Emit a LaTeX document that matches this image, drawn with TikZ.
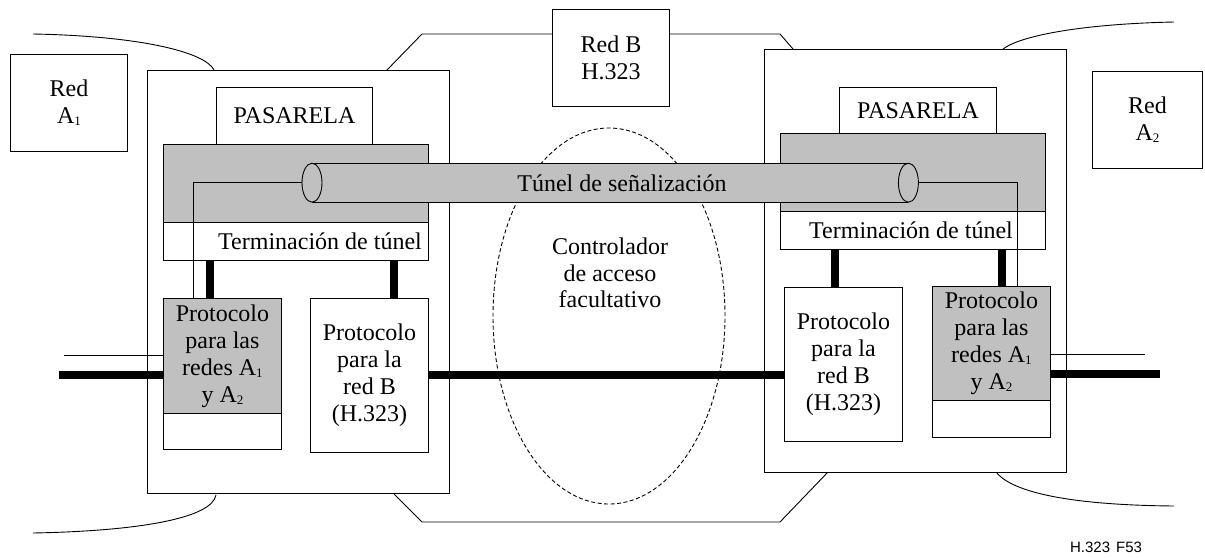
\documentclass[tikz,border=0pt]{standalone}
\usepackage{fontspec}
\setmainfont{Liberation Serif}
\newfontfamily\figsans{Liberation Sans}
\usetikzlibrary{shapes.geometric}
\definecolor{tgray}{RGB}{192,192,192}
\newcommand\figtxt{\fontsize{24}{27}\selectfont}
\newcommand\figsub[1]{\raisebox{-2pt}{\fontsize{13}{13}\selectfont #1}}
\begin{document}
\begin{tikzpicture}[x=1pt,y=-1pt,
  box/.style={draw, line width=0.9pt, fill=white, inner sep=0pt, align=center, font=\figtxt, anchor=north west},
  gbox/.style={box, fill=tgray},
  lbl/.style={inner sep=0pt, align=center, font=\figtxt},
  thk/.style={line width=8pt},
  thn/.style={line width=0.9pt},
  outline/.style={line width=0.9pt}]
\useasboundingbox (0,0) rectangle (1205,557);
% network outlines
\draw[outline] (33,34) .. controls (140,36) and (205,52) .. (214,70);
\draw[outline] (33,533) .. controls (140,531) and (212,518) .. (216,495);
\draw[outline] (1174,22) .. controls (1080,24) and (1020,36) .. (1003,49);
\draw[outline] (996,472) .. controls (1010,490) and (1060,505) .. (1174,506);
\draw[outline] (387,70) -- (422,34) -- (780,34) -- (793,49);
\draw[outline] (394,494) -- (422,522) -- (780,522) -- (828,472);
% gateways
\node[box, minimum width=302pt, minimum height=423pt] (gw1) at (147,70) {};
\node[box, minimum width=302pt, minimum height=423pt] (gw2) at (764,49) {};
% gatekeeper
\node[draw, ellipse, dash pattern=on 4pt off 2.5pt, line width=0.9pt, minimum width=232pt, minimum height=376pt, inner sep=0pt] (gk) at (609,316) {};
\node[lbl, font=\fontsize{24}{26.5}\selectfont] (gktext) at (610,273) {Controlador\\de acceso\\facultativo};
% networks
\node[box, minimum width=117pt, minimum height=97pt] (redA1) at (10,54) {Red\\A\figsub{1}};
\node[box, minimum width=117pt, minimum height=97pt] (redB) at (552,9) {Red B\\H.323};
\node[box, minimum width=110pt, minimum height=97pt] (redA2) at (1092,71) {Red\\A\figsub{2}};
% left gateway internals
\node[box, minimum width=156pt, minimum height=57pt] (pas1) at (216,87) {PASARELA};
\node[gbox, minimum width=265pt, minimum height=78pt] (gr1) at (163,144) {};
\node[box, minimum width=265pt, minimum height=38pt] (term1) at (163,222) {};
\node[lbl, anchor=east] (term1t) at (422,241) {Terminación de túnel};
\node[gbox, minimum width=118pt, minimum height=115pt] (pa1) at (163,298) {Protocolo\\para las\\redes A\figsub{1}\\y A\figsub{2}};
\node[box, minimum width=118pt, minimum height=36pt] (pa1w) at (163,413) {};
\node[box, minimum width=118pt, minimum height=154pt] (pb1) at (310,298) {Protocolo\\para la\\red B\\(H.323)};
% right gateway internals
\node[box, minimum width=157pt, minimum height=46pt] (pas2) at (839,87) {PASARELA};
\node[gbox, minimum width=265pt, minimum height=78pt] (gr2) at (780,133) {};
\node[box, minimum width=265pt, minimum height=38pt] (term2) at (780,211) {};
\node[lbl, anchor=east] (term2t) at (1013,230) {Terminación de túnel};
\node[box, minimum width=118pt, minimum height=154pt] (pb2) at (784,287) {Protocolo\\para la\\red B\\(H.323)};
\node[gbox, minimum width=118pt, minimum height=114pt] (pa2) at (932,286) {Protocolo\\para las\\redes A\figsub{1}\\y A\figsub{2}};
\node[box, minimum width=118pt, minimum height=37pt] (pa2w) at (932,400) {};
% tunnel
\node[fill=tgray, inner sep=0pt, minimum width=596pt, minimum height=39pt, anchor=north west] (tunnel) at (312,163) {};
\draw[outline] (tunnel.north west) -- (tunnel.north east);
\draw[outline] (tunnel.south west) -- (tunnel.south east);
\node[draw, ellipse, fill=tgray, line width=0.9pt, inner sep=0pt, minimum width=20pt, minimum height=39pt] (tl) at (tunnel.west) {};
\node[draw, ellipse, fill=tgray, line width=0.9pt, inner sep=0pt, minimum width=20pt, minimum height=39pt] (tr) at (tunnel.east) {};
\node[lbl] (tuntext) at (622,183) {Túnel de señalización};
\draw[thn] (tl.west) -| ([xshift=30pt]pa1.north west);
\draw[thn] (tr.east) -| ([xshift=85pt]pa2.north west);
% thick links
\draw[thk] ([xshift=47pt]term1.south west) -- ([xshift=47pt]pa1.north west);
\draw[thk] ([xshift=231pt]term1.south west) -- ([xshift=231pt]term1.south west |- pb1.north);
\draw[thk] ([xshift=55pt]term2.south west) -- ([xshift=55pt]term2.south west |- pb2.north);
\draw[thk] ([xshift=222pt]term2.south west) -- ([xshift=222pt]term2.south west |- pa2.north);
\draw[thk] (pb1.east) -- (pb1.east -| pb2.west);
\coordinate (la) at (59,375);
\coordinate (lb) at (64,355);
\coordinate (ra) at (1160,374);
\coordinate (rb) at (1145,354);
\draw[thk] (la) -- (la -| pa1.west);
\draw[thn] (lb) -- (lb -| pa1.west);
\draw[thk] (ra -| pa2.east) -- (ra);
\draw[thn] (rb -| pa2.east) -- (rb);
\node[inner sep=0pt, font=\figsans\fontsize{15}{15}\selectfont] (fig) at (1106,547) {H.323\hspace{6pt}F53};
\end{tikzpicture}
\end{document}
